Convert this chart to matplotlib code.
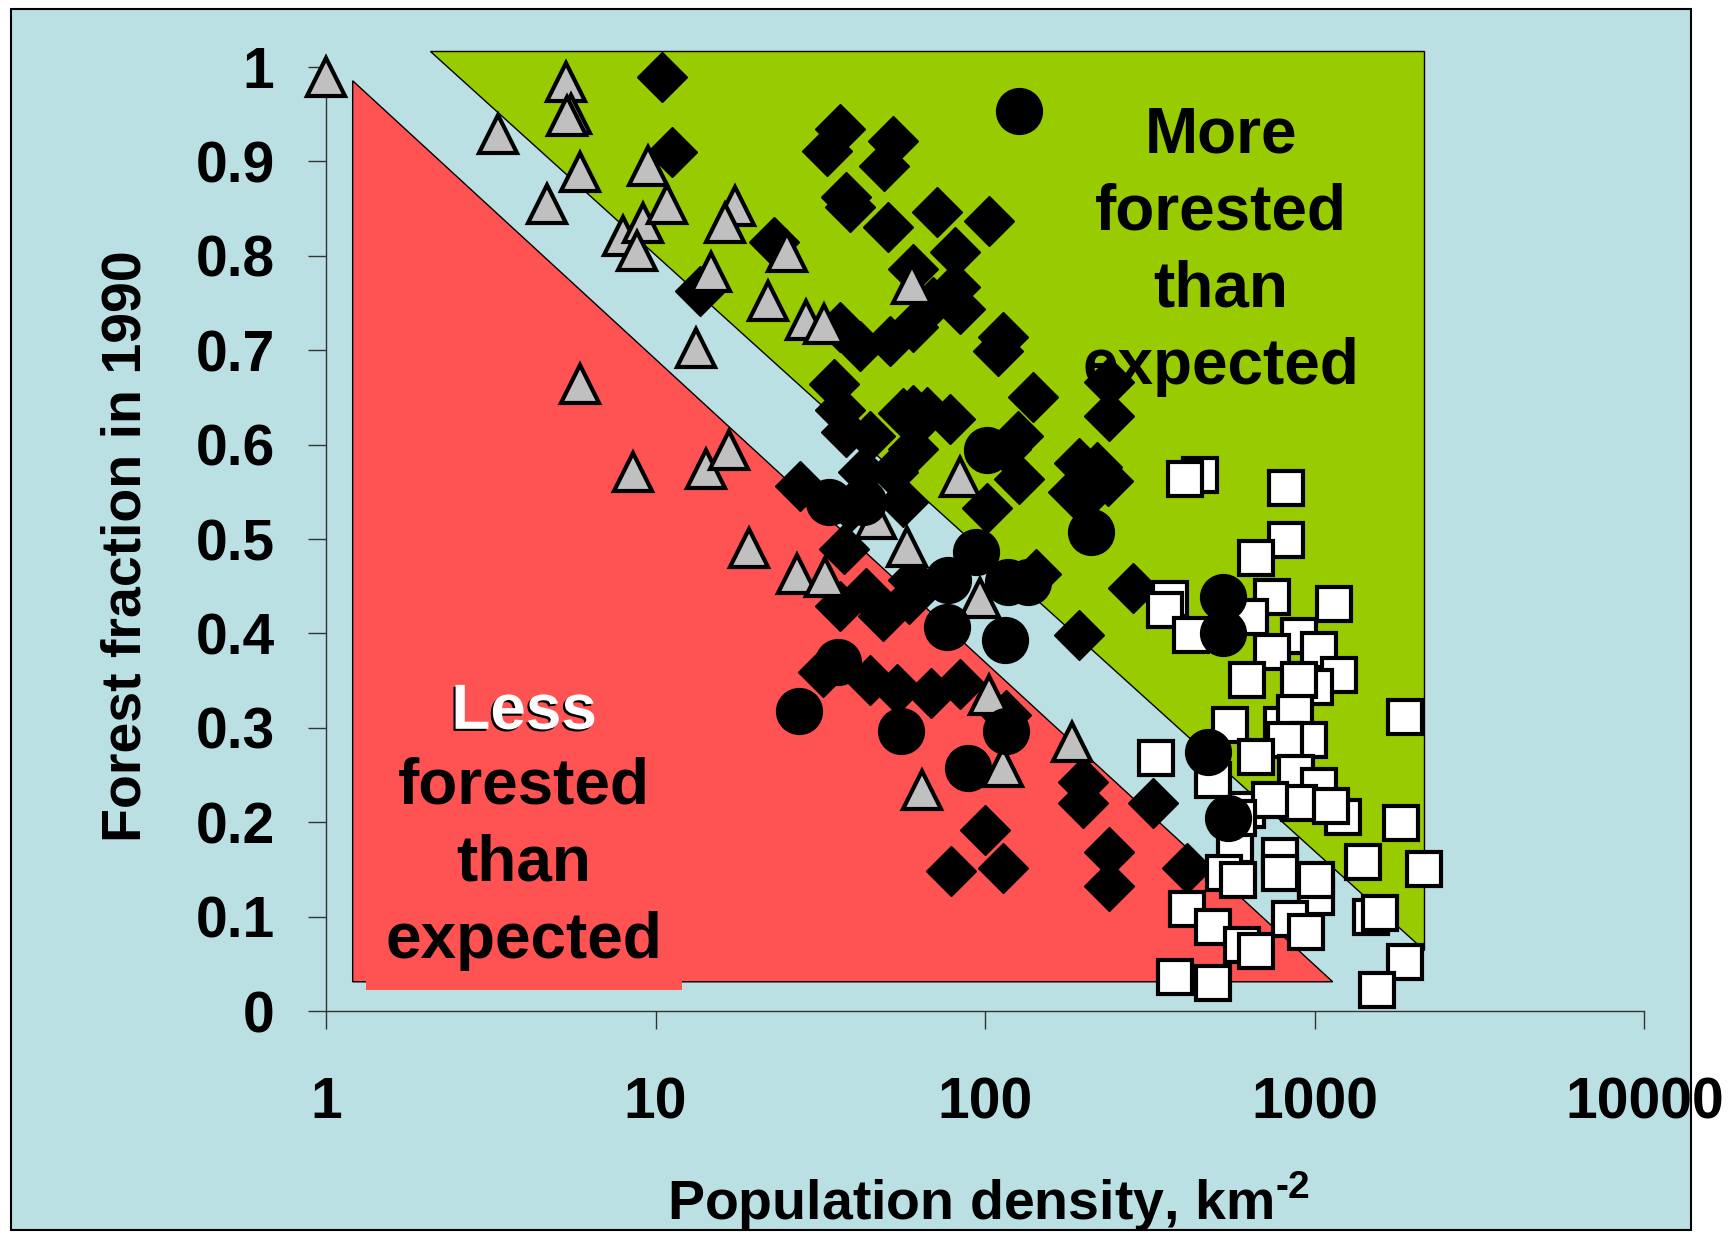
import matplotlib
matplotlib.use("Agg")
import matplotlib.pyplot as plt
import matplotlib.patheffects as pe
from matplotlib.patches import Rectangle

plt.rcParams['font.family'] = ['Liberation Sans', 'DejaVu Sans']
plt.rcParams['font.weight'] = 'bold'
plt.rcParams['mathtext.fontset'] = 'custom'
plt.rcParams['mathtext.rm'] = 'Liberation Sans:bold'
plt.rcParams['mathtext.bf'] = 'Liberation Sans:bold'

BG = '#BBE0E3'
RED = '#FF5252'
GREEN = '#99CC00'
GREY = '#C0C0C0'

# gray triangles
tri_x = [1.0, 3.33, 5.34, 5.55, 5.38, 4.68, 5.90, 9.46, 7.98, 9.17, 8.81, 10.8,
         17.4, 16.2, 14.7, 25.0, 21.9, 28.5, 32.5, 13.3, 59.8, 5.90, 8.55, 14.2,
         16.7, 19.2, 26.8, 32.7, 84.0, 58.0, 96.5, 103, 113.5, 64.1, 183, 46.7]
tri_y = [0.989, 0.929, 0.984, 0.950, 0.948, 0.855, 0.889, 0.895, 0.821, 0.835, 0.805, 0.855,
         0.853, 0.835, 0.783, 0.804, 0.752, 0.732, 0.728, 0.702, 0.770, 0.664, 0.571, 0.574,
         0.594, 0.491, 0.463, 0.460, 0.566, 0.492, 0.438, 0.335, 0.259, 0.234, 0.285, 0.521]

# black diamonds
dia_x = [10.45, 11.2, 13.6,
         36.2, 33, 52.5, 49.3, 37.7, 38.8, 50.8, 71.4, 103, 22.8, 80.8, 60.3, 80.8, 84,
         113.5, 109, 36.2, 41.6, 51.3, 60.3, 69.2, 140, 238, 238, 34.8, 36.2, 37.9, 60.3,
         66.6, 60.3, 125.5, 116, 127, 219, 236, 27.4, 44.6, 42.6, 52.5,
         56.2, 78.4, 101, 193, 198, 143, 193, 38.8, 56.2, 37.3, 36.2, 43.6, 48.9, 58.9,
         60.3, 32.3, 44.6, 54.1, 68.7, 84, 116, 100, 198, 198,
         79, 113.5, 322, 238, 238, 409, 280, 185]
dia_y = [0.989, 0.910, 0.763,
         0.934, 0.911, 0.922, 0.895, 0.862, 0.852, 0.831, 0.846, 0.837, 0.815, 0.804, 0.786, 0.767, 0.744,
         0.714, 0.699, 0.725, 0.704, 0.710, 0.725, 0.751, 0.650, 0.666, 0.630, 0.664, 0.637, 0.613, 0.637,
         0.635, 0.595, 0.609, 0.595, 0.564, 0.576, 0.561, 0.556, 0.609, 0.571, 0.571,
         0.634, 0.627, 0.533, 0.581, 0.542, 0.463, 0.398, 0.534, 0.539, 0.489, 0.429, 0.443, 0.418, 0.436,
         0.457, 0.359, 0.351, 0.341, 0.337, 0.346, 0.314, 0.192, 0.243, 0.220,
         0.148, 0.152, 0.220, 0.168, 0.132, 0.152, 0.448, 0.550]

# black circles
circ_x = [127, 101, 93.6, 117, 134.6, 77, 76.6, 115, 210, 35.7, 27.2, 55.4, 116, 88.7,
          42.6, 33.5, 527, 527, 473, 544]
circ_y = [0.953, 0.594, 0.486, 0.455, 0.455, 0.457, 0.407, 0.393, 0.508, 0.370, 0.318, 0.297,
          0.297, 0.258, 0.539, 0.539, 0.439, 0.401, 0.274, 0.205]

# white squares
sq_x = [449, 403, 819, 819, 665, 364, 350, 422, 741, 635, 1141, 898, 741, 1032, 1186, 621,
        1000, 898, 1884, 552, 794, 871, 963, 812, 665, 329, 877, 492, 1032, 898, 1214, 1828,
        621, 729, 1116, 573, 783, 1400, 2149, 531, 583, 783, 1009, 838, 941, 1484, 1578, 409,
        492, 601, 665, 1884, 376, 492, 1542, 1009, 583]
sq_y = [0.568, 0.564, 0.554, 0.499, 0.480, 0.436, 0.425, 0.398, 0.439, 0.417, 0.431, 0.397,
        0.380, 0.383, 0.356, 0.351, 0.343, 0.351, 0.312, 0.303, 0.303, 0.316, 0.287, 0.287,
        0.269, 0.268, 0.252, 0.245, 0.238, 0.220, 0.206, 0.199, 0.213, 0.224, 0.217, 0.176,
        0.164, 0.158, 0.150, 0.146, 0.139, 0.146, 0.121, 0.097, 0.084, 0.100, 0.104, 0.108,
        0.089, 0.070, 0.064, 0.052, 0.036, 0.030, 0.022, 0.139, 0.205]

# shaded zones
red_x = [1.205, 1.205, 1133]
red_y = [0.031, 0.9855, 0.031]
green_x = [2.068, 2149, 2149]
green_y = [1.017, 1.017, 0.065]

fig = plt.figure(figsize=(17.33, 12.33), dpi=100)
fig.patch.set_facecolor('white')
fig.patches.append(Rectangle((11 / 1733, 3 / 1233), 1680 / 1733, 1221 / 1233,
                             transform=fig.transFigure, facecolor=BG,
                             edgecolor='black', linewidth=1.5, zorder=-5))

ax = fig.add_axes([0.1881, 0.1800, 0.7608, 0.7656])
ax.set_facecolor('none')
ax.set_xscale('log')
ax.set_xlim(1, 10000)
ax.set_ylim(0, 1)

ax.fill(red_x, red_y, facecolor=RED, edgecolor='black', linewidth=1, clip_on=False, zorder=1)
ax.fill(green_x, green_y, facecolor=GREEN, edgecolor='black', linewidth=1, clip_on=False, zorder=1)

ax.plot(dia_x, dia_y, 'D', ms=25, mfc='black', mec='black', mew=1, ls='none',
        clip_on=False, zorder=3)
ax.plot(tri_x, tri_y, '^', ms=27, mfc=GREY, mec='black', mew=3, ls='none',
        clip_on=False, zorder=4)
ax.plot(sq_x, sq_y, 's', ms=24, mfc='white', mec='black', mew=3, ls='none',
        clip_on=False, zorder=5)
ax.plot(circ_x, circ_y, 'o', ms=33, mfc='black', mec='black', mew=1, ls='none',
        clip_on=False, zorder=6)

# zone labels
ax.text(520, 0.805, 'More\nforested\nthan\nexpected', fontsize=46, fontweight='bold',
        ha='center', va='center', multialignment='center', linespacing=1.36, zorder=2)
ax.text(3.99, 0.156, 'forested\nthan\nexpected', fontsize=46, fontweight='bold',
        ha='center', va='center', multialignment='center', linespacing=1.36, zorder=2,
        bbox=dict(boxstyle='square,pad=0.3', facecolor=RED, edgecolor='none'))
ax.text(3.99, 0.317, 'Less', fontsize=46, fontweight='bold', color='white',
        ha='center', va='center', zorder=2,
        path_effects=[pe.withSimplePatchShadow(offset=(-1.5, -1.5), shadow_rgbFace='black', alpha=1)])

ax.set_xticks([1, 10, 100, 1000, 10000])
ax.set_xticklabels(['1', '10', '100', '1000', '10000'])
ax.xaxis.set_minor_locator(matplotlib.ticker.NullLocator())
ax.set_yticks([i / 10 for i in range(11)])
ax.set_yticklabels(['0', '0.1', '0.2', '0.3', '0.4', '0.5', '0.6', '0.7', '0.8', '0.9', '1'])

for s in ['top', 'right']:
    ax.spines[s].set_visible(False)
for s in ['left', 'bottom']:
    ax.spines[s].set_color('#333333')
    ax.spines[s].set_linewidth(1)
ax.tick_params(axis='both', direction='out', length=13, width=1, color='#333333',
               labelsize=41)
ax.tick_params(axis='y', pad=24)
ax.tick_params(axis='x', pad=34)
for lab in ax.get_xticklabels() + ax.get_yticklabels():
    lab.set_fontweight('bold')

fig.text(127 / 1733, 1 - 546 / 1233, 'Forest fraction in 1990', rotation=90,
         fontsize=40, fontweight='bold', ha='center', va='center')
fig.text(989 / 1733, 13 / 1233, r'Population density, km$^{\text{-2}}$',
         fontsize=40, fontweight='bold', ha='center', va='baseline')

fig.savefig('out.png', dpi=100)
